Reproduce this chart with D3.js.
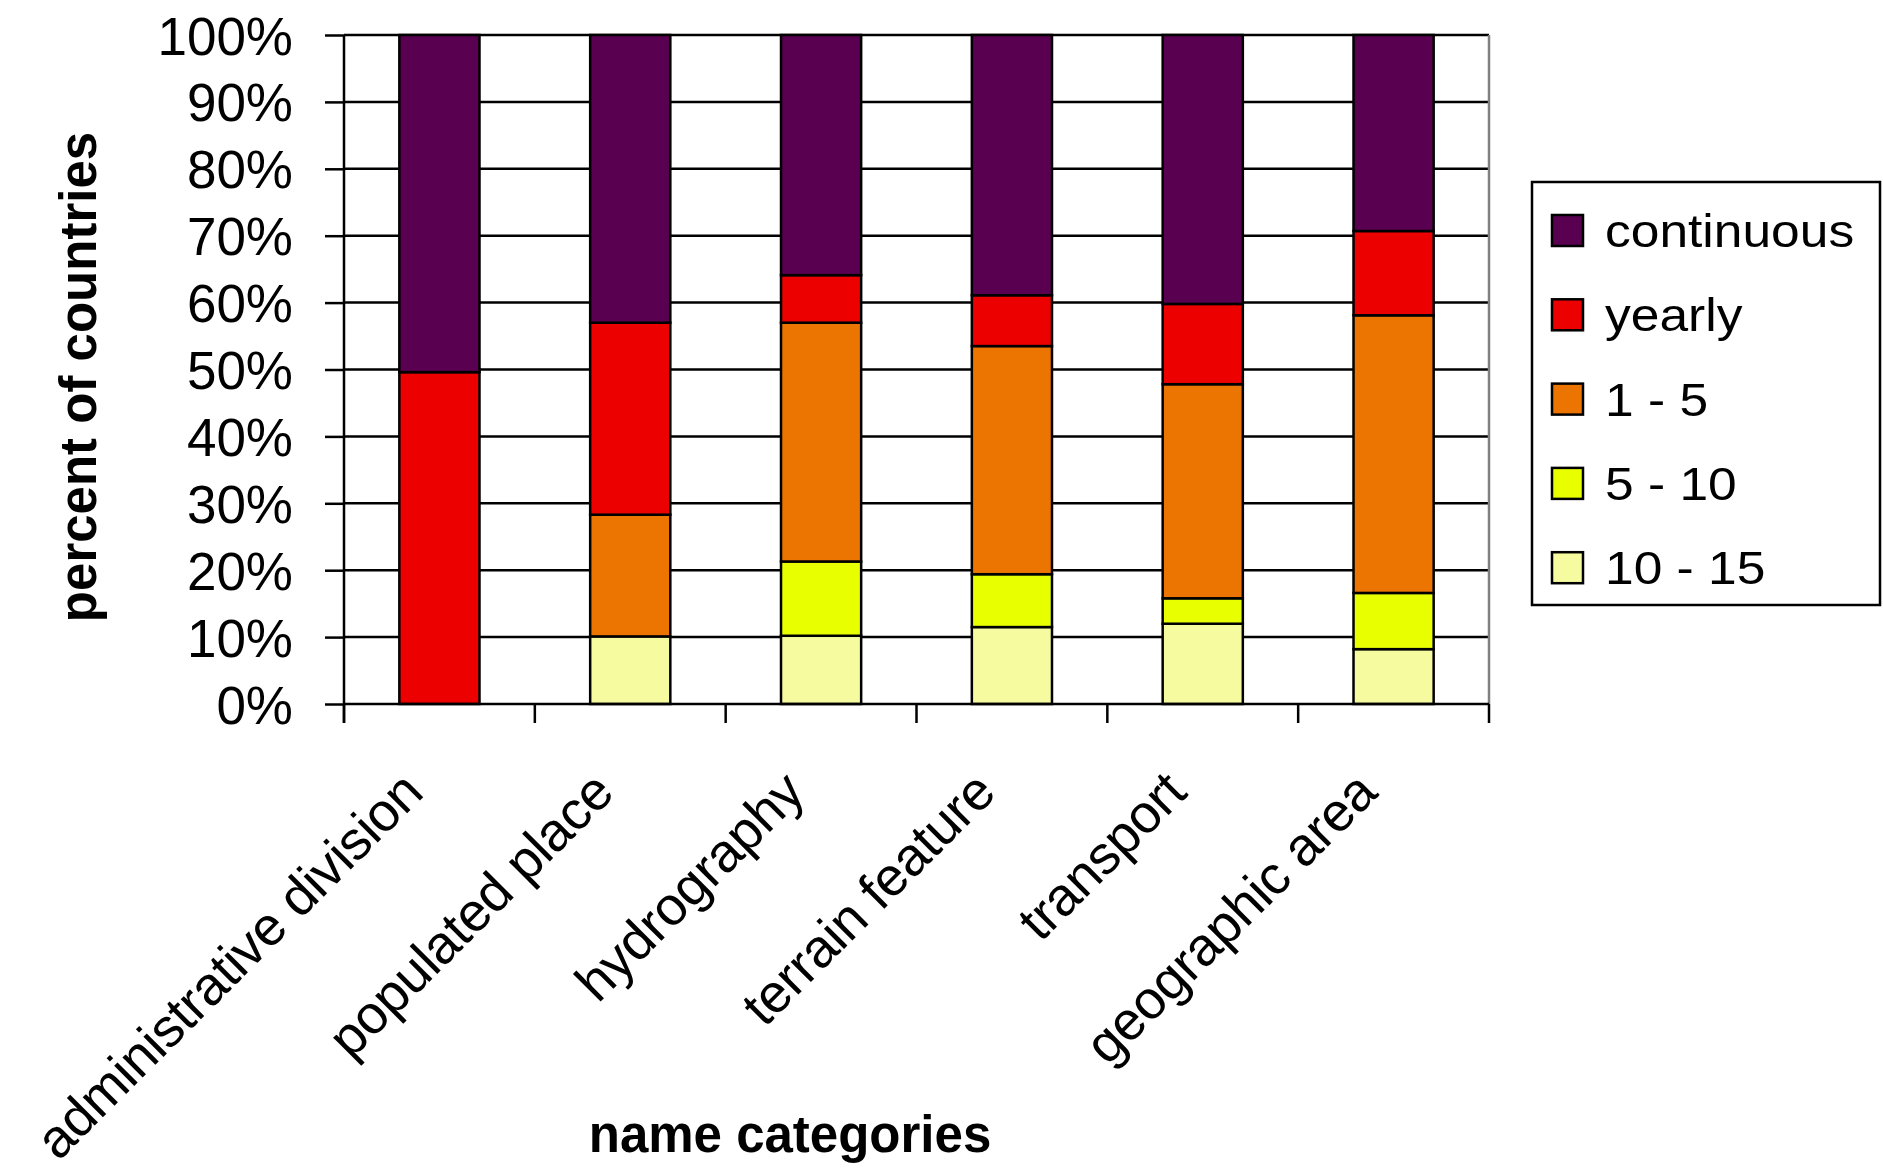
<!DOCTYPE html>
<html>
<head>
<meta charset="utf-8">
<script src="https://cdn.jsdelivr.net/npm/d3@7"></script>
<style>
  body { margin: 0; background: #fff; }
  text { font-family: Arial, "Liberation Sans", sans-serif; fill: #000; }
</style>
</head>
<body>
<svg id="chart" width="1883" height="1176"></svg>
<script>
(function () {
    'use strict';

    // categories along x
    var categories = ['administrative division', 'populated place', 'hydrography',
        'terrain feature', 'transport', 'geographic area'];

    // stacked series, bottom to top (percent of countries)
    var seriesKeys = ['10 - 15', '5 - 10', '1 - 5', 'yearly', 'continuous'];
    var range10to15 = [0, 10.1, 10.2, 11.5, 12.0, 8.2];
    var range5to10 = [0, 0, 11.1, 7.9, 3.8, 8.4];
    var range1to5 = [0, 18.2, 35.7, 34.1, 32.0, 41.5];
    var yearly = [49.6, 28.7, 7.1, 7.6, 12.0, 12.6];
    var continuous = [50.4, 43.0, 35.9, 38.9, 40.2, 29.3];
    var seriesColors = ['#f7fba0', '#e8ff00', '#ec7400', '#ec0000', '#5a0050'];

    var yTicks = [0, 10, 20, 30, 40, 50, 60, 70, 80, 90, 100];

    var left = 344, right = 1489, top = 35, bottom = 704;
    var lw = 2.5;

    var rows = categories.map(function (c, i) {
        return {
            cat: c,
            '10 - 15': range10to15[i],
            '5 - 10': range5to10[i],
            '1 - 5': range1to5[i],
            'yearly': yearly[i],
            'continuous': continuous[i]
        };
    });

    var stacked = d3.stack().keys(seriesKeys)(rows);

    var x = d3.scaleBand().domain(categories).range([left, right])
        .paddingInner(0.58).paddingOuter(0.29);
    var y = d3.scaleLinear().domain([0, 100]).range([bottom, top]);
    var color = d3.scaleOrdinal().domain(seriesKeys).range(seriesColors);

    var svg = d3.select('#chart');

    // gridlines
    svg.append('g').selectAll('line').data(yTicks.slice(1)).enter().append('line')
        .attr('x1', left).attr('x2', right)
        .attr('y1', function (d) { return y(d); })
        .attr('y2', function (d) { return y(d); })
        .attr('stroke', '#000').attr('stroke-width', lw);

    // right border of plot area
    svg.append('line')
        .attr('x1', right).attr('x2', right).attr('y1', top).attr('y2', bottom)
        .attr('stroke', '#808080').attr('stroke-width', lw);

    // bars
    svg.append('g').selectAll('g').data(stacked).enter().append('g')
        .attr('fill', function (d) { return color(d.key); })
        .selectAll('rect').data(function (d) { return d; }).enter().append('rect')
        .attr('x', function (d) { return x(d.data.cat); })
        .attr('width', x.bandwidth())
        .attr('y', function (d) { return y(d[1]); })
        .attr('height', function (d) { return y(d[0]) - y(d[1]); })
        .attr('stroke', '#000').attr('stroke-width', lw);

    // y axis
    var yAxis = d3.axisLeft(y).tickValues(yTicks)
        .tickFormat(function (d) { return d + '%'; })
        .tickSize(19).tickPadding(32);
    var yg = svg.append('g').attr('transform', 'translate(' + left + ',0)').call(yAxis);
    yg.select('.domain').attr('stroke', '#000').attr('stroke-width', lw)
        .attr('d', 'M0,' + top + 'V' + (bottom + 19));
    yg.selectAll('.tick line').attr('stroke', '#000').attr('stroke-width', lw);
    yg.selectAll('.tick text')
        .attr('font-size', 53).attr('font-family', 'Arial, "Liberation Sans", sans-serif')
        .attr('dy', '0.36em');

    // x axis, ticks between categories
    var step = x.step();
    var xg = svg.append('g').attr('transform', 'translate(0,' + bottom + ')');
    xg.append('line').attr('x1', left).attr('x2', right).attr('y1', 0).attr('y2', 0)
        .attr('stroke', '#000').attr('stroke-width', lw);
    xg.selectAll('line.tk').data(d3.range(categories.length + 1)).enter().append('line')
        .attr('class', 'tk')
        .attr('x1', function (i) { return left + i * step; })
        .attr('x2', function (i) { return left + i * step; })
        .attr('y1', 0).attr('y2', 19)
        .attr('stroke', '#000').attr('stroke-width', lw);

    xg.selectAll('text').data(categories).enter().append('text')
        .attr('text-anchor', 'end')
        .attr('font-size', 54)
        .attr('letter-spacing', -0.4)
        .attr('transform', function (d) {
            return 'translate(' + (x(d) + x.bandwidth() / 2 - 14) + ',91) rotate(-45)';
        })
        .text(function (d) { return d; });

    // axis titles
    svg.append('text')
        .attr('text-anchor', 'middle').attr('font-weight', 'bold').attr('font-size', 51)
        .attr('transform', 'translate(96,377) rotate(-90)')
        .text('percent of countries');

    svg.append('text')
        .attr('text-anchor', 'middle').attr('font-weight', 'bold').attr('font-size', 51)
        .attr('x', 790).attr('y', 1152)
        .text('name categories');

    // legend
    var legend = svg.append('g');
    legend.append('rect')
        .attr('x', 1532).attr('y', 182).attr('width', 348).attr('height', 423)
        .attr('fill', '#fff').attr('stroke', '#000').attr('stroke-width', lw);

    var legendKeys = seriesKeys.slice().reverse();
    var item = legend.selectAll('g.item').data(legendKeys).enter().append('g')
        .attr('class', 'item')
        .attr('transform', function (d, i) { return 'translate(1552,' + (230 + i * 84.3) + ')'; });
    item.append('rect')
        .attr('x', 0).attr('y', -15).attr('width', 31).attr('height', 31)
        .attr('fill', function (d) { return color(d); })
        .attr('stroke', '#000').attr('stroke-width', lw);
    item.append('text')
        .attr('transform', 'translate(53,17) scale(1.12,1)')
        .attr('font-size', 46)
        .text(function (d) { return d; });
}());
</script>
</body>
</html>
